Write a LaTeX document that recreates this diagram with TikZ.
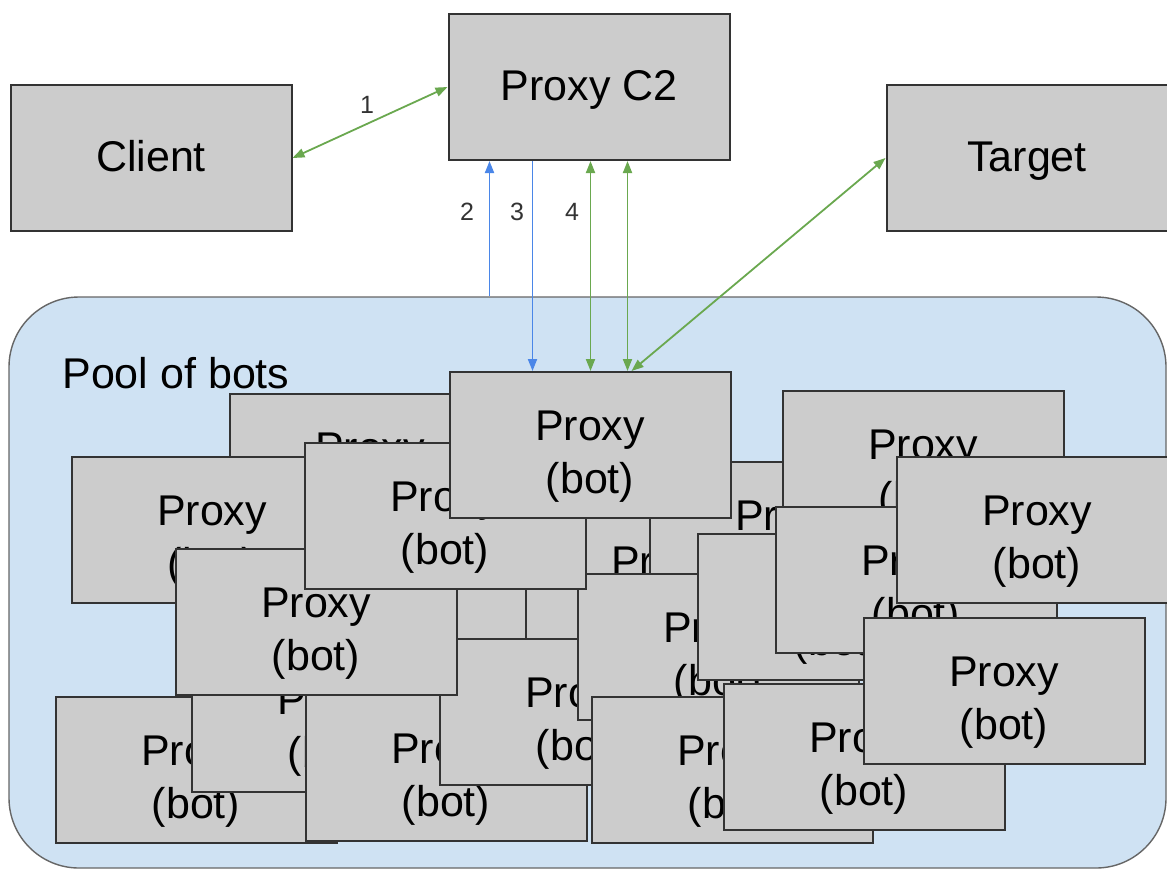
\documentclass[tikz,border=0pt]{standalone}
\usepackage{fontspec}
\setmainfont{Liberation Sans}
\usepackage{tikz}
\usetikzlibrary{calc,arrows.meta}

\definecolor{boxgray}{HTML}{CCCCCC}
\definecolor{poolblue}{HTML}{CFE2F3}
\definecolor{arrgreen}{HTML}{6AA84F}
\definecolor{arrblue}{HTML}{4A86E8}
\definecolor{edgegray}{HTML}{333333}

\begin{document}
\begin{tikzpicture}[x=0.5pt, y=-0.5pt,
  box/.style={draw=edgegray, fill=boxgray, line width=1pt,
    minimum width=140.5pt, minimum height=73pt, inner sep=0pt,
    align=center, font=\fontsize{21.5}{26.5}\selectfont},
  topbox/.style={box, text height=14pt, text depth=1pt},
  bot/.style={box},
  pool/.style={draw=black!60, fill=poolblue, line width=0.7pt,
    rounded corners=35pt, minimum width=578.5pt, minimum height=285.5pt,
    inner sep=0pt},
  gline/.style={draw=arrgreen, line width=0.9pt, {Triangle[length=6pt, width=4.5pt]}-{Triangle[length=6pt, width=4.5pt]}},
  bline/.style={draw=arrblue, line width=0.9pt, -{Triangle[length=6pt, width=4.5pt]}},
  lbl/.style={font=\fontsize{12.5}{15}\selectfont, text=black!80}]
  \def\botname{\rule{0pt}{26pt}Proxy\\(bot)}
  \useasboundingbox (0,0) rectangle (1167,869);
  \clip (0,0) rectangle (1167,869);
  % pool
  \node[pool] (pool) at (587.5,582.5) {};
  \node[anchor=base west, inner sep=0pt, font=\fontsize{21.5}{25}\selectfont] (poollbl) at (62,388) {Pool of bots};
  % pile of bots, back to front
  \node[bot] (b1) at (390,600) {\botname};
  \node[bot] (b2) at (370,467) {\botname};
  \node[bot] (b3) at (212,530) {\botname};
  \node[bot] (b4) at (196,770) {\botname};
  \node[bot] (b5) at (332,719) {\botname};
  \node[bot] (b6) at (446,768) {\botname};
  \node[bot] (b7) at (666,581) {\botname};
  \node[bot] (b8) at (790,535) {\botname};
  \node[bot] (b9) at (923,464) {\botname};
  \node[bot] (b10) at (580,712) {\botname};
  \node[bot] (b11) at (718,647) {\botname};
  \node[bot] (b12) at (838,607) {\botname};
  \node[bot] (b13) at (732,770) {\botname};
  \node[bot] (b14) at (864,757) {\botname};
  \node[bot] (b15) at (916,580) {\botname};
  \node[bot] (b16) at (1037,530) {\botname};
  \node[bot] (b17) at (1004,691) {\botname};
  \node[bot] (b18) at (316,622) {\botname};
  \node[bot] (b19) at (445,516) {\botname};
  \node[bot] (b20) at (590,445) {\botname};
  % top row
  \node[topbox] (client) at (151,158) {Client};
  \node[topbox] (c2) at (589,87) {Proxy C2};
  \node[topbox] (target) at (1027,158) {Target};
  % arrows
  \coordinate (p2) at ($(c2.south west)+(42,0)$);
  \coordinate (p3) at ($(c2.south west)+(85,0)$);
  \coordinate (p4) at ($(c2.south west)+(143,0)$);
  \coordinate (p5) at ($(c2.south west)+(180,0)$);
  \coordinate (p6) at ($(b20.north west)+(183,0)$);
  \draw[gline] (client.east) -- (c2.west);
  \draw[bline] (p2 |- pool.north) -- (p2);
  \draw[bline] (p3) -- (p3 |- b20.north);
  \draw[gline] (p4) -- (p4 |- b20.north);
  \draw[gline] (p5) -- (p5 |- b20.north);
  \draw[gline] (target.west) -- (p6);
  \node[lbl] (l1) at (367,105) {1};
  \node[lbl] (l2) at (467,212) {2};
  \node[lbl] (l3) at (517,212) {3};
  \node[lbl] (l4) at (572,212) {4};
\end{tikzpicture}
\end{document}
